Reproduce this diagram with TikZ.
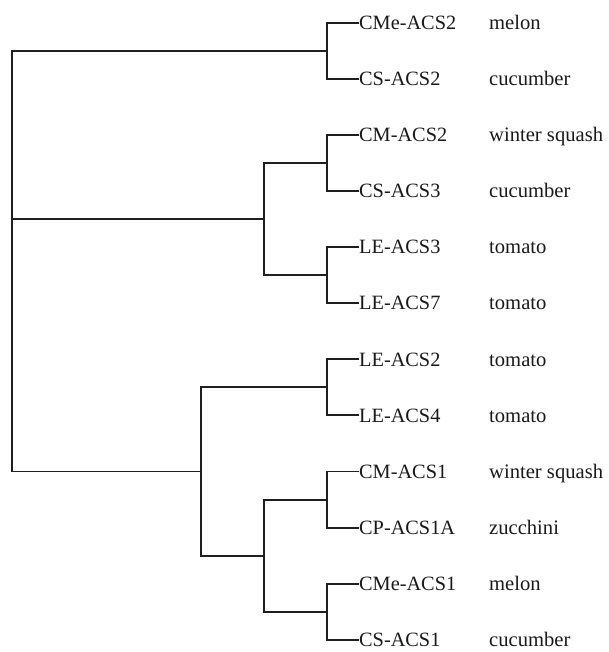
\documentclass[tikz,border=0pt]{standalone}
\usepackage{fontspec}
\setmainfont{Liberation Serif}
\begin{document}
\begin{tikzpicture}[x=1pt,y=-1pt,
  branch/.style={draw=black!88,line width=1.9pt,line cap=rect},
  gene/.style={anchor=west,inner xsep=1pt,inner ysep=0pt,text height=13.4pt,text depth=0pt,font=\fontsize{20.3}{24}\selectfont,text=black!90},
  species/.style={anchor=west,inner xsep=0pt,inner ysep=0pt,text height=13.4pt,text depth=0pt,font=\fontsize{20.6}{24}\selectfont,text=black!90}]
\useasboundingbox (0,0) rectangle (609,652);
% leaves
\def\gx{358}
\def\sx{489}
\node[gene] (g0) at (\gx,22.7) {CMe-ACS2};
\node[gene] (g1) at (\gx,78.8) {CS-ACS2};
\node[gene] (g2) at (\gx,134.9) {CM-ACS2};
\node[gene] (g3) at (\gx,191.0) {CS-ACS3};
\node[gene] (g4) at (\gx,247.1) {LE-ACS3};
\node[gene] (g5) at (\gx,303.2) {LE-ACS7};
\node[gene] (g6) at (\gx,359.3) {LE-ACS2};
\node[gene] (g7) at (\gx,415.4) {LE-ACS4};
\node[gene] (g8) at (\gx,471.5) {CM-ACS1};
\node[gene] (g9) at (\gx,527.6) {CP-ACS1A};
\node[gene] (g10) at (\gx,583.7) {CMe-ACS1};
\node[gene] (g11) at (\gx,639.8) {CS-ACS1};
\node[species] (s0) at (\sx,22.7) {melon};
\node[species] (s1) at (\sx,78.8) {cucumber};
\node[species] (s2) at (\sx,134.9) {winter squash};
\node[species] (s3) at (\sx,191.0) {cucumber};
\node[species] (s4) at (\sx,247.1) {tomato};
\node[species] (s5) at (\sx,303.2) {tomato};
\node[species] (s6) at (\sx,359.3) {tomato};
\node[species] (s7) at (\sx,415.4) {tomato};
\node[species] (s8) at (\sx,471.5) {winter squash};
\node[species] (s9) at (\sx,527.6) {zucchini};
\node[species] (s10) at (\sx,583.7) {melon};
\node[species] (s11) at (\sx,639.8) {cucumber};
% internal nodes
\coordinate (n01) at (327,50.75);
\coordinate (n23) at (327,162.95);
\coordinate (n45) at (327,275.15);
\coordinate (n67) at (327,387.35);
\coordinate (n89) at (327,499.55);
\coordinate (n1011) at (327,611.75);
\coordinate (nA) at (264,219.05);
\coordinate (nB) at (264,555.65);
\coordinate (nC) at (201,471.5);
\coordinate (root) at (11.6,219.05);
% leaf branches
\draw[branch] (n01) |- (g0.west);
\draw[branch] (n01) |- (g1.west);
\draw[branch] (n23) |- (g2.west);
\draw[branch] (n23) |- (g3.west);
\draw[branch] (n45) |- (g4.west);
\draw[branch] (n45) |- (g5.west);
\draw[branch] (n67) |- (g6.west);
\draw[branch] (n67) |- (g7.west);
\draw[branch] (n89) |- (g8.west);
\draw[branch] (n89) |- (g9.west);
\draw[branch] (n1011) |- (g10.west);
\draw[branch] (n1011) |- (g11.west);
% internal branches
\draw[branch] (nA) |- (n23);
\draw[branch] (nA) |- (n45);
\draw[branch] (nB) |- (n89);
\draw[branch] (nB) |- (n1011);
\draw[branch] (nC) |- (n67);
\draw[branch] (nC) |- (nB);
\draw[branch] (root) |- (n01);
\draw[branch] (root) -- (nA);
\draw[branch] (root) |- (nC);
\end{tikzpicture}
\end{document}
